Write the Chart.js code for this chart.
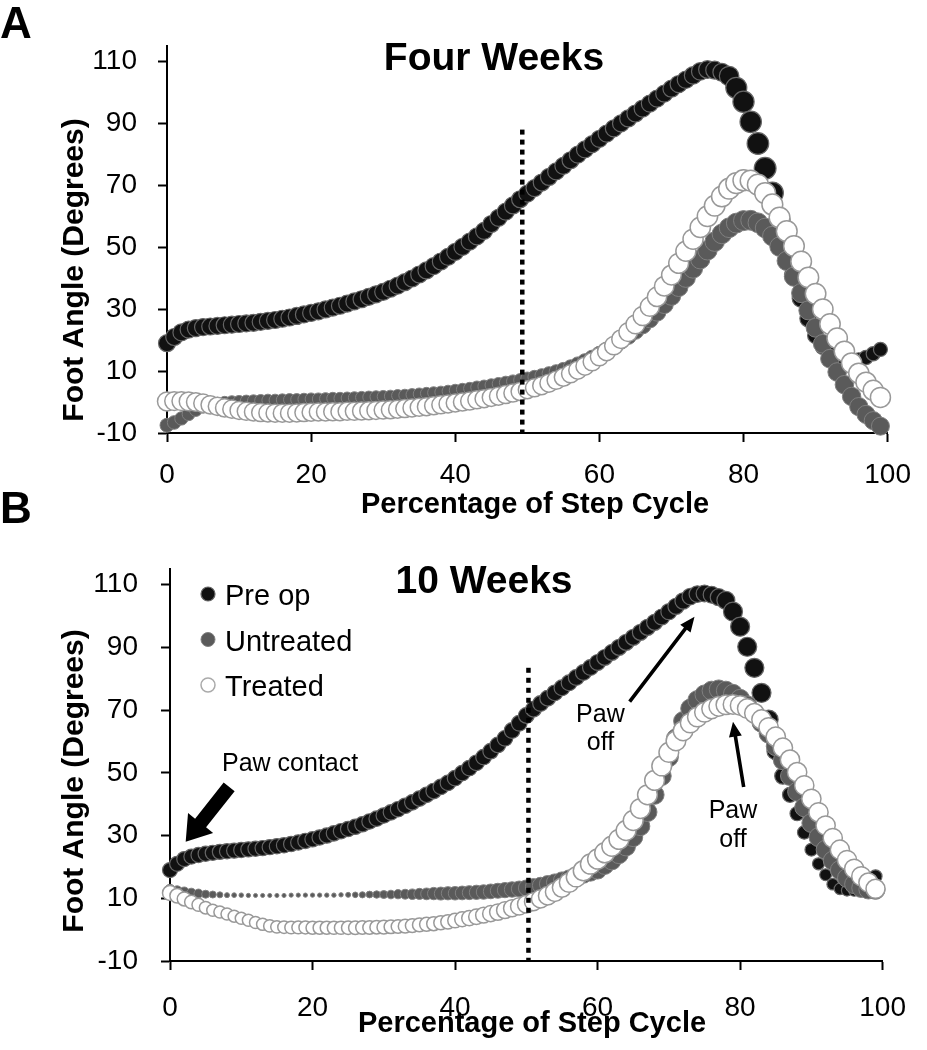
<!DOCTYPE html>
<html>
<head>
<meta charset="utf-8">
<script src="https://cdn.jsdelivr.net/npm/chart.js@4.4.1/dist/chart.umd.min.js"></script>
<style>
  html, body { margin: 0; padding: 0; background: #fff; }
  #wrap { position: relative; width: 927px; height: 1050px; overflow: hidden; }
  canvas { position: absolute; left: 0; }
  #fourWeeks { top: 0; }
  #tenWeeks { top: 480px; }
</style>
</head>
<body>
<div id="wrap">
  <canvas id="fourWeeks" width="927" height="520"></canvas>
  <canvas id="tenWeeks" width="927" height="570"></canvas>
</div>
<script>
// step cycle position (%) and tick labels
const stepPct = Array.from({ length: 100 }, (_, i) => i);
const stepTicks = [0, 20, 40, 60, 80, 100];
const angleTicks = [-10, 10, 30, 50, 70, 90, 110];
const seriesNames = ["Pre op", "Untreated", "Treated"];

// foot angle (degrees), four weeks
const preOpA = [
  19, 21, 22.5, 23.4, 23.9, 24.2, 24.4, 24.6, 24.8, 25,
  25.2, 25.4, 25.6, 25.9, 26.2, 26.5, 26.9, 27.3, 27.8, 28.3,
  28.8, 29.3, 29.9, 30.5, 31.1, 31.8, 32.5, 33.2, 34, 34.8,
  35.6, 36.6, 37.6, 38.7, 39.9, 41.2, 42.5, 43.9, 45.4, 46.9,
  48.5, 50.1, 51.8, 53.5, 55.3, 57.5, 59.5, 61.5, 63.5, 65.5,
  67.3, 69.1, 70.9, 72.7, 74.5, 76.3, 78.1, 79.9, 81.6, 83.3,
  85, 86.7, 88.4, 90, 91.6, 93.2, 94.8, 96.4, 98, 99.6,
  101.2, 102.7, 104.1, 105.5, 106.8, 107.4, 107.2, 106.5, 105.3, 101.5,
  97, 90.5, 83.5, 75.5, 67.5, 58.5, 49.5, 41, 33.5, 27,
  21.5, 17.8, 15.4, 14, 13.4, 13.3, 13.6, 14.4, 15.6, 17
];
const untreatedA = [
  -7.5, -6.6, -5.3, -3.9, -2.6, -1.6, -0.9, -0.4, -0.1, 0.1,
  0.2, 0.3, 0.4, 0.5, 0.6, 0.6, 0.7, 0.8, 0.8, 0.9,
  1, 1, 1.1, 1.2, 1.2, 1.3, 1.4, 1.5, 1.6, 1.7,
  1.8, 1.9, 2.1, 2.2, 2.4, 2.6, 2.8, 3, 3.2, 3.5,
  3.8, 4.1, 4.4, 4.8, 5.1, 5.5, 5.9, 6.3, 6.7, 7.1,
  7.6, 8.1, 8.6, 9.2, 9.8, 10.5, 11.3, 12.2, 13.2, 14.3,
  15.5, 16.8, 18.2, 19.7, 21.3, 23, 24.8, 26.8, 29, 31.5,
  34.2, 37.1, 40.1, 43.1, 46.1, 49, 51.8, 54.3, 56.3, 57.8,
  58.6, 58.7, 57.9, 56.2, 53.6, 50.2, 45.6, 40.5, 35.2, 29.6,
  24, 18.8, 14, 9.7, 5.6, 1.8, -1.5, -4, -6, -7.8
];
const treatedA = [
  0.2, 0.3, 0.3, 0.2, 0, -0.4, -0.9, -1.4, -1.9, -2.3,
  -2.7, -3, -3.2, -3.4, -3.5, -3.6, -3.6, -3.6, -3.5, -3.4,
  -3.3, -3.2, -3.2, -3.1, -3.1, -3, -3, -2.9, -2.8, -2.7,
  -2.6, -2.5, -2.3, -2.1, -1.9, -1.7, -1.5, -1.2, -0.9, -0.6,
  -0.3, 0, 0.3, 0.7, 1.1, 1.5, 1.9, 2.4, 2.9, 3.4,
  4, 4.6, 5.3, 6.1, 7, 8, 9.1, 10.3, 11.6, 13,
  14.6, 16.3, 18.2, 20.3, 22.6, 25.1, 27.8, 30.8, 34, 37.4,
  41, 44.8, 48.7, 52.6, 56.4, 60, 63.4, 66.4, 68.9, 70.7,
  71.6, 71.5, 70.2, 67.5, 63.8, 59.6, 55.2, 50.4, 45.4, 40.2,
  35, 30, 25.2, 20.6, 16.4, 12.6, 9.3, 6.4, 3.8, 1.5
];

// foot angle (degrees), ten weeks
const preOpB = [
  19, 21, 22.5, 23.3, 23.8, 24.2, 24.5, 24.8, 25, 25.2,
  25.4, 25.6, 25.8, 26, 26.3, 26.6, 26.9, 27.3, 27.8, 28.3,
  28.8, 29.4, 30, 30.7, 31.4, 32.1, 32.8, 33.6, 34.5, 35.4,
  36.4, 37.4, 38.4, 39.5, 40.6, 41.8, 43, 44.2, 45.5, 46.8,
  48.3, 49.9, 51.5, 53.2, 55, 56.9, 58.9, 61, 63.5, 65.8,
  68.3, 70.3, 72.1, 73.8, 75.5, 77.1, 78.7, 80.4, 82, 83.6,
  85.2, 86.8, 88.4, 90, 91.6, 93.2, 94.8, 96.4, 98, 99.7,
  101.4, 103.1, 104.8, 106.2, 107, 107.2, 106.8, 106, 105, 101.4,
  96.6, 90.2, 83.5, 75.5, 67, 57, 49, 43, 37, 31,
  25.5, 21, 17.5, 14.5, 13, 12.5, 12.4, 12.8, 14, 17
];
const untreatedB = [
  12.7, 12.3, 12, 11.7, 11.5, 11.3, 11.2, 11.1, 11, 11,
  11, 10.9, 10.9, 10.9, 10.9, 10.9, 10.9, 11, 11, 11,
  11, 11, 11, 11, 11.1, 11.1, 11.1, 11.1, 11.2, 11.2,
  11.2, 11.2, 11.3, 11.3, 11.3, 11.4, 11.4, 11.5, 11.5, 11.6,
  11.6, 11.7, 11.8, 11.9, 12, 12.2, 12.4, 12.6, 12.8, 13,
  13.3, 13.7, 14.1, 14.6, 15.1, 15.7, 16.3, 16.9, 17.6, 18.3,
  19, 20.5, 22, 24, 26.5, 29.5, 33, 37.5, 43, 49,
  55, 61, 66.5, 70.5, 73.2, 75, 76.2, 76.6, 76.2, 75.2,
  73.6, 71.5, 69, 66, 62.5, 58.5, 54, 49, 44, 39,
  34, 29.5, 25.5, 22, 19, 16.5, 14.5, 13.3, 12.8, 12.7
];
const treatedB = [
  11.7, 10.8, 9.8, 8.8, 7.9, 7, 6.2, 5.6, 5, 4.3,
  3.6, 3, 2.3, 1.7, 1.2, 0.9, 0.8, 0.7, 0.7, 0.7,
  0.6, 0.6, 0.6, 0.6, 0.6, 0.6, 0.6, 0.7, 0.7, 0.8,
  0.8, 0.9, 1, 1.1, 1.3, 1.5, 1.7, 1.9, 2.2, 2.5,
  2.9, 3.3, 3.7, 4.1, 4.6, 5.1, 5.6, 6.2, 6.8, 7.4,
  8.1, 8.9, 9.8, 10.8, 12, 13.4, 15, 16.8, 18.8, 20.9,
  22.5, 24.5, 26.6, 28.8, 31.6, 34.8, 38.6, 43, 47.6, 52.2,
  56.5, 60.2, 63.4, 65.9, 67.8, 69.3, 70.4, 71.2, 71.7, 71.8,
  71.5, 70.5, 69, 67, 64.5, 61.5, 58, 54.2, 50.2, 46,
  41.7, 37.4, 33.2, 29.2, 25.5, 22.2, 19.4, 17, 15, 13
];

// end of stance (dotted line), [step %, top of line in degrees]
const stanceEndA = [49.3, 88];
const stanceEndB = [50.3, 83.5];

// ---- styling ----
Chart.defaults.font.family = '"Liberation Sans", Arial, Helvetica, sans-serif';
Chart.defaults.color = "#000";

const looks = [
  { fill: "#111", edge: "#666", width: 1.2 },
  { fill: "#5a5a5a", edge: "#808080", width: 1 },
  { fill: "#fff", edge: "#999", width: 1.5 }
];

// marker radius along the cycle: [step index, px]
const sizesA = [
  [[0, 8.5], [70, 8.5], [77, 9], [79, 10.5], [84, 11], [87, 9.5], [91, 7.5], [99, 7]],
  [[0, 7], [6, 6], [40, 6], [50, 6.5], [62, 8], [72, 9.5], [80, 10], [99, 9]],
  [[0, 9.5], [10, 9], [45, 9], [60, 9], [72, 10], [80, 10.5], [99, 10]]
];
const sizesB = [
  [[0, 7.5], [70, 8], [77, 8.5], [79, 9.5], [84, 9.5], [87, 7.5], [91, 6], [96, 5.5], [99, 6.5]],
  [[0, 5.5], [4, 4.5], [8, 2.5], [12, 2], [24, 2.2], [30, 4], [38, 6.5], [46, 7.5], [55, 8.5], [65, 9.5], [99, 9.5]],
  [[0, 7.5], [6, 6], [12, 6], [20, 6.5], [38, 7], [48, 8.5], [58, 10], [99, 9.5]]
];

function radiusFrom(profile) {
  return ctx => {
    const i = ctx.dataIndex;
    for (let k = 1; k < profile.length; k++) {
      const [i0, r0] = profile[k - 1], [i1, r1] = profile[k];
      if (i <= i1) return r0 + (r1 - r0) * (i - i0) / (i1 - i0);
    }
    return profile[profile.length - 1][1];
  };
}

const toPoints = vals => vals.map((v, i) => ({ x: stepPct[i], y: v }));

function drawArrow(ctx, x0, y0, x1, y1, shaft, headW, headL) {
  const len = Math.hypot(x1 - x0, y1 - y0);
  const dx = (x1 - x0) / len, dy = (y1 - y0) / len;
  const nx = -dy, ny = dx;
  const bx = x1 - dx * headL, by = y1 - dy * headL;
  ctx.beginPath();
  ctx.moveTo(x0 + nx * shaft, y0 + ny * shaft);
  ctx.lineTo(bx + nx * shaft, by + ny * shaft);
  ctx.lineTo(bx + nx * headW, by + ny * headW);
  ctx.lineTo(x1, y1);
  ctx.lineTo(bx - nx * headW, by - ny * headW);
  ctx.lineTo(bx - nx * shaft, by - ny * shaft);
  ctx.lineTo(x0 - nx * shaft, y0 - ny * shaft);
  ctx.closePath();
  ctx.fill();
}

function textPlugin(t) {
  return {
    id: "figureText",
    afterDatasetsDraw(chart) {
      const ctx = chart.ctx, sx = chart.scales.x, sy = chart.scales.y;
      ctx.save();
      ctx.fillStyle = "#000";
      ctx.textBaseline = "alphabetic";

      ctx.font = "bold 44px " + Chart.defaults.font.family;
      ctx.textAlign = "left";
      ctx.fillText(t.letter, 0, t.letterY);

      ctx.font = "bold 39px " + Chart.defaults.font.family;
      ctx.textAlign = "center";
      ctx.fillText(t.title, t.titleX, t.titleY);

      ctx.font = "bold 29px " + Chart.defaults.font.family;
      ctx.fillText("Percentage of Step Cycle", t.xTitleX, t.xTitleY);

      ctx.save();
      ctx.translate(t.yTitleX, t.yTitleY);
      ctx.rotate(-Math.PI / 2);
      ctx.font = "bold 30px " + Chart.defaults.font.family;
      ctx.textBaseline = "middle";
      ctx.fillText("Foot Angle (Degrees)", 0, 0);
      ctx.restore();

      if (t.legend) {
        ctx.font = "29px " + Chart.defaults.font.family;
        ctx.textAlign = "left";
        seriesNames.forEach((name, i) => {
          const y = t.legend.y + i * t.legend.gap;
          ctx.beginPath();
          ctx.arc(t.legend.x, y, 7, 0, Math.PI * 2);
          ctx.fillStyle = looks[i].fill;
          ctx.fill();
          ctx.lineWidth = looks[i].width;
          ctx.strokeStyle = i === 2 ? "#aaa" : looks[i].edge;
          ctx.stroke();
          ctx.fillStyle = "#000";
          ctx.fillText(name, t.legend.x + 17, y + 11);
        });
      }

      (t.notes || []).forEach(n => {
        ctx.font = "25px " + Chart.defaults.font.family;
        ctx.textAlign = n.align;
        n.lines.forEach((line, k) => {
          ctx.fillText(line, sx.getPixelForValue(n.x), sy.getPixelForValue(n.y[k]));
        });
      });

      (t.arrows || []).forEach(a => {
        drawArrow(ctx,
          sx.getPixelForValue(a.from[0]), sy.getPixelForValue(a.from[1]),
          sx.getPixelForValue(a.to[0]), sy.getPixelForValue(a.to[1]),
          a.shaft, a.headW, a.headL);
      });
      ctx.restore();
    }
  };
}

function buildPanel(id, series, sizes, stance, lay, text) {
  const datasets = series.map((vals, i) => ({
    label: seriesNames[i],
    data: toPoints(vals),
    backgroundColor: looks[i].fill,
    borderColor: looks[i].edge,
    borderWidth: looks[i].width,
    pointRadius: radiusFrom(sizes[i]),
    pointHoverRadius: radiusFrom(sizes[i]),
    clip: false,
    order: 3 - i
  }));
  datasets.push({
    label: "stance",
    data: [{ x: stance[0], y: stance[1] }, { x: stance[0], y: -10 }],
    showLine: true,
    borderColor: "#000",
    borderWidth: 4.5,
    borderDash: [5, 5],
    pointRadius: 0,
    order: 0
  });
  const axisLook = {
    border: { display: true, color: "#000", width: 2 },
    grid: { drawOnChartArea: false, drawTicks: true, tickLength: 9, tickWidth: 2, tickColor: "#000" }
  };
  return new Chart(document.getElementById(id), {
    type: "scatter",
    data: { datasets },
    options: {
      responsive: false,
      animation: false,
      events: [],
      layout: { padding: lay.padding },
      plugins: { legend: { display: false }, tooltip: { enabled: false } },
      scales: {
        x: {
          type: "linear", min: 0, max: 100,
          ...axisLook,
          afterBuildTicks: s => { s.ticks = stepTicks.map(v => ({ value: v })); },
          afterFit: s => { s.height = lay.xBand; },
          ticks: { font: { size: 28 }, color: "#000", padding: lay.xTickPad, maxRotation: 0, autoSkip: false }
        },
        y: {
          type: "linear", min: -10, max: 115,
          ...axisLook,
          afterBuildTicks: s => { s.ticks = angleTicks.map(v => ({ value: v })); },
          afterFit: s => { s.width = lay.yBand; },
          ticks: { font: { size: 28 }, color: "#000", padding: lay.yTickPad, autoSkip: false }
        }
      }
    },
    plugins: [textPlugin(text)]
  });
}

buildPanel("fourWeeks", [preOpA, untreatedA, treatedA], sizesA, stanceEndA,
  { padding: { left: 0, right: 24, top: 46, bottom: 0 }, yBand: 167, xBand: 87, yTickPad: 21, xTickPad: 16 },
  { letter: "A", letterY: 38, title: "Four Weeks", titleX: 494, titleY: 70,
    xTitleX: 535, xTitleY: 513, yTitleX: 75, yTitleY: 270 });

buildPanel("tenWeeks", [preOpB, untreatedB, treatedB], sizesB, stanceEndB,
  { padding: { left: 0, right: 33, top: 89, bottom: 0 }, yBand: 170, xBand: 89, yTickPad: 23, xTickPad: 21 },
  { letter: "B", letterY: 43, title: "10 Weeks", titleX: 484, titleY: 113,
    xTitleX: 532, xTitleY: 552, yTitleX: 75, yTitleY: 301,
    legend: { x: 208, y: 114, gap: 45.5 },
    notes: [
      { lines: ["Paw contact"], x: 7.3, y: [50.6], align: "left" },
      { lines: ["Paw", "off"], x: 60.4, y: [66.3, 57.3], align: "center" },
      { lines: ["Paw", "off"], x: 79, y: [35.6, 26.4], align: "center" }
    ],
    arrows: [
      { from: [8.3, 45.5], to: [2.2, 28], shaft: 7, headW: 16, headL: 24 },
      { from: [64.5, 72.7], to: [73.6, 99.8], shaft: 1.8, headW: 6.5, headL: 15 },
      { from: [80.5, 45.5], to: [79, 66.3], shaft: 1.8, headW: 6.5, headL: 15 }
    ] });
</script>
</body>
</html>
